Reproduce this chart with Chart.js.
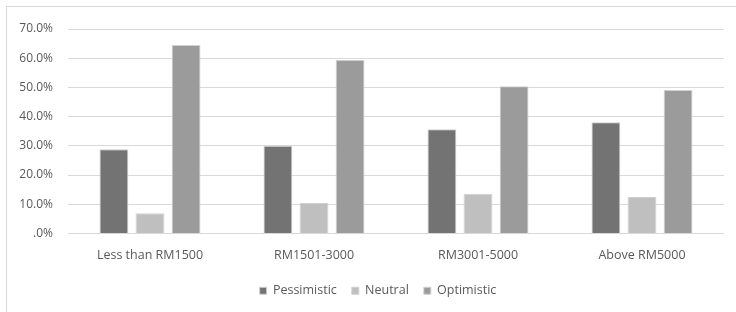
<!DOCTYPE html>
<html>
<head>
<meta charset="utf-8">
<script src="https://cdn.jsdelivr.net/npm/chart.js@4"></script>
<style>
  html, body { margin: 0; padding: 0; background: #fff; }
  #frame { position: absolute; left: 6px; top: 6px; width: 740px; height: 320px; border: 1px solid #d9d9d9; }
  #wrap { position: absolute; left: 0; top: 0; width: 736px; height: 312px; }
</style>
</head>
<body>
<div id="frame"></div>
<div id="wrap"><canvas id="c" width="736" height="312"></canvas></div>
<script>
// données
const categories = ["Less than RM1500", "RM1501-3000", "RM3001-5000", "Above RM5000"];
const pessimistic = [28.8, 30.0, 35.7, 38.1];
const neutral = [6.9, 10.4, 13.6, 12.5];
const optimistic = [64.5, 59.4, 50.4, 49.1];
const yTicks = [0, 10, 20, 30, 40, 50, 60, 70];

const FONT = "'Open Sans', 'Noto Sans', sans-serif";
const TXT = "#595959";

const mkSet = (label, data, color) => ({
  label,
  data,
  backgroundColor: color,
  borderColor: "#d0d0d0",
  borderWidth: 1,
  categoryPercentage: 0.66,
  barPercentage: 0.8
});

// la légende est un peu décalée à droite dans l'original
const shiftLegend = {
  id: "shiftLegend",
  afterLayout(chart) {
    const lg = chart.legend;
    if (!lg) return;
    lg.left += 16;
    lg.right += 16;
  }
};

new Chart(document.getElementById("c"), {
  type: "bar",
  data: {
    labels: categories,
    datasets: [
      mkSet("Pessimistic", pessimistic, "#737373"),
      mkSet("Neutral", neutral, "#bfbfbf"),
      mkSet("Optimistic", optimistic, "#9b9b9b")
    ]
  },
  options: {
    responsive: false,
    animation: false,
    layout: { padding: { top: 29, right: 12, bottom: 5, left: 0 } },
    plugins: {
      tooltip: { enabled: false },
      legend: {
        position: "bottom",
        labels: {
          color: TXT,
          font: { family: FONT, size: 12.5 },
          boxWidth: 7,
          boxHeight: 7,
          padding: 15
        }
      }
    },
    scales: {
      x: {
        grid: { display: false },
        border: { display: false },
        ticks: { color: TXT, font: { family: FONT, size: 12.5 }, padding: 6, maxRotation: 0 },
        afterFit: (s) => { s.height = 36; }
      },
      y: {
        min: 0,
        max: 70,
        afterBuildTicks: (s) => { s.ticks = yTicks.map(v => ({ value: v })); },
        afterFit: (s) => { s.width = 68; },
        grid: { color: "#d9d9d9", drawTicks: false },
        border: { display: false },
        ticks: {
          color: TXT,
          font: { family: FONT, size: 12 },
          padding: 15,
          callback: (v) => v === 0 ? ".0%" : v.toFixed(1) + "%"
        }
      }
    }
  },
  plugins: [shiftLegend]
});
</script>
</body>
</html>
